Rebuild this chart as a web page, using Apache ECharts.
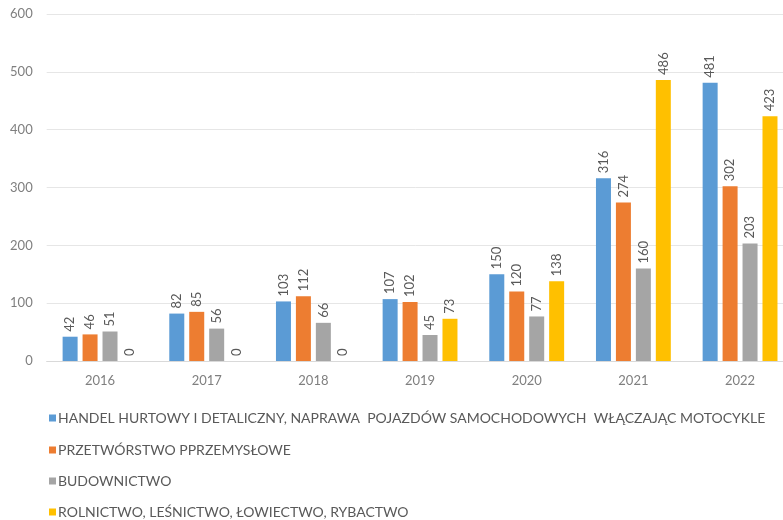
<!DOCTYPE html>
<html><head><meta charset="utf-8">
<script src="https://cdn.jsdelivr.net/npm/echarts@6/dist/echarts.min.js"></script>
<style>html,body{margin:0;padding:0;background:#fff}#c{width:783px;height:520px}</style>
</head><body><div id="c"></div>
<script>
const years = ['2016','2017','2018','2019','2020','2021','2022'];
const seriesNames = [
  'HANDEL HURTOWY I DETALICZNY, NAPRAWA  POJAZDÓW SAMOCHODOWYCH  WŁĄCZAJĄC MOTOCYKLE',
  'PRZETWÓRSTWO PPRZEMYSŁOWE',
  'BUDOWNICTWO',
  'ROLNICTWO, LEŚNICTWO, ŁOWIECTWO, RYBACTWO'
];
const handel = [42, 82, 103, 107, 150, 316, 481];
const przetworstwo = [46, 85, 112, 102, 120, 274, 302];
const budownictwo = [51, 56, 66, 45, 77, 160, 203];
const rolnictwo = [0, 0, 0, 73, 138, 486, 423];
const colors = ['#5B9BD5', '#ED7D31', '#A5A5A5', '#FFC000'];
const allData = [handel, przetworstwo, budownictwo, rolnictwo];

const chart = echarts.init(document.getElementById('c'));
const font = 'Lato, sans-serif';
const legendCenters = [417, 449, 480, 511];
chart.setOption({
  animation: false,
  color: colors,
  grid: { left: 46.7, top: 14, width: 746.7, bottom: 159, outerBoundsMode: 'none', containLabel: false },
  legend: seriesNames.map((n, i) => ({
    orient: 'vertical', left: 44, top: legendCenters[i] - 11,
    itemWidth: 7, itemHeight: 7, itemGap: 0,
    icon: 'rect',
    textStyle: { fontFamily: font, fontSize: 14, color: '#595959', padding: [0,0,0,-3] },
    data: [n]
  })),
  xAxis: {
    type: 'category', data: years,
    axisLine: { lineStyle: { color: '#d9d9d9' } },
    axisTick: { show: false },
    axisLabel: { color: '#7f7f7f', fontSize: 13, fontFamily: font, margin: 13 }
  },
  yAxis: {
    type: 'value', min: 0, max: 600, interval: 100,
    axisLine: { show: false }, axisTick: { show: false },
    splitLine: { lineStyle: { color: '#e6e6e6' } },
    axisLabel: { color: '#7f7f7f', fontSize: 13, fontFamily: font, margin: 14 }
  },
  series: allData.map((d, i) => ({
    name: seriesNames[i], type: 'bar', data: d,
    barWidth: 15, barGap: '33%',
    label: {
      show: true, position: 'top', rotate: 90, align: 'left', verticalAlign: 'middle',
      distance: 5, color: '#595959', fontSize: 13, fontFamily: font
    }
  }))
});
</script></body></html>
